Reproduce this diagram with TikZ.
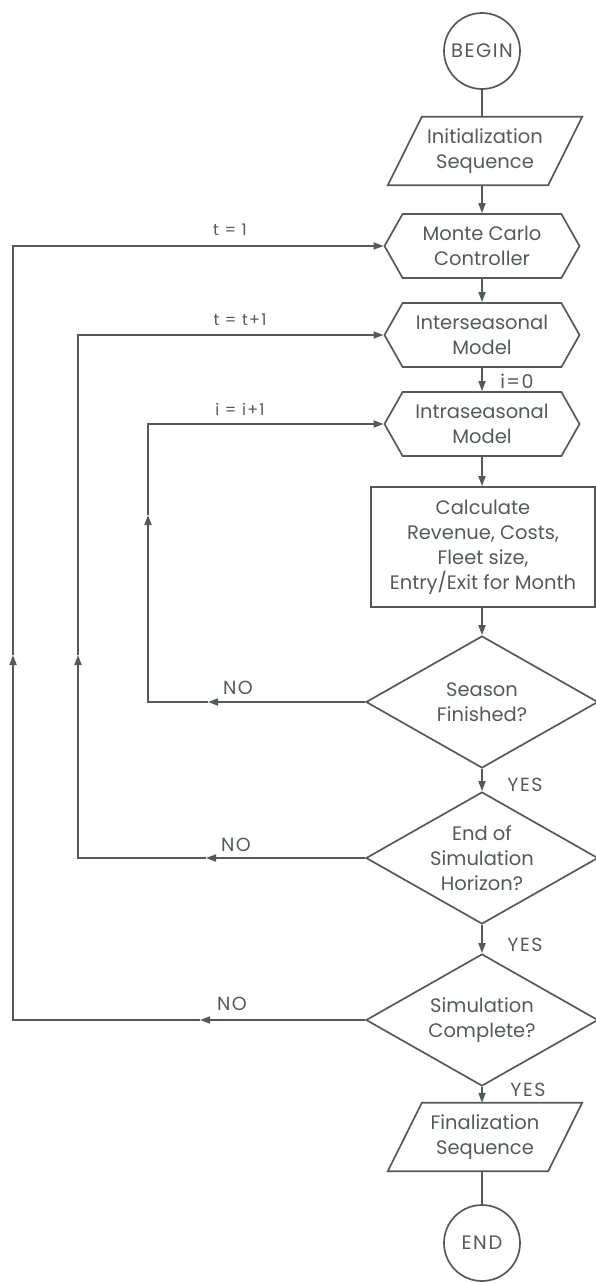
\documentclass[tikz,border=0pt]{standalone}
\usepackage{fontspec}
\setmainfont{Poppins}
\newfontfamily\spaced[LetterSpace=8]{Poppins}
\usetikzlibrary{shapes.geometric,shapes.symbols,arrows.meta}
\definecolor{ink}{HTML}{545A5A}
\begin{document}
\begin{tikzpicture}[x=1pt,y=-1pt,
  every node/.style={text=ink, font=\fontsize{19.5}{25}\selectfont},
  base/.style={draw=ink, line width=1.7pt, align=center, inner sep=0pt},
  term/.style={base, circle, minimum size=76pt, font=\spaced\fontsize{19.5}{25}\selectfont},
  iobody/.style={align=center, inner sep=0pt, rectangle, minimum width=126pt, minimum height=68pt},
  hex/.style={base, signal, signal to=west and east, signal pointer angle=121, minimum width=195pt, minimum height=64pt},
  proc/.style={base, rectangle, minimum width=224pt, minimum height=120pt},
  dec/.style={base, diamond, aspect=1.76, minimum width=232pt, minimum height=132pt},
  line/.style={draw=ink, line width=1.7pt},
  arr/.style={line, -{Triangle[length=10pt,width=7pt]}},
  lab/.style={font=\spaced\fontsize{16}{18}\selectfont},
  blab/.style={font=\spaced\fontsize{19}{20}\selectfont}
]
\useasboundingbox (0,0) rectangle (596,1283);

% main column
\node[term] (start) at (482,51) {BEGIN};
\node[iobody] (init) at (485,151) {Initialization\\Sequence};
\draw[line, line join=miter] (init.north west) -- ([xshift=34pt]init.north east) -- (init.south east) -- ([xshift=-34pt]init.south west) -- cycle;
\node[hex] (mc) at (482,246) {Monte Carlo\\Controller};
\node[hex] (inter) at (482,335) {Interseasonal\\Model};
\node[hex] (intra) at (482,424) {Intraseasonal\\Model};
\node[proc] (calc) at (483,547) {Calculate\\Revenue, Costs,\\Fleet size,\\Entry/Exit for Month};
\node[dec] (d1) at (482,702) {Season\\Finished?};
\node[dec] (d2) at (482,858) {End of\\Simulation\\Horizon?};
\node[dec] (d3) at (482,1020) {Simulation\\Complete?};
\node[iobody] (fin) at (485,1137) {Finalization\\Sequence};
\draw[line, line join=miter] (fin.north west) -- ([xshift=34pt]fin.north east) -- (fin.south east) -- ([xshift=-34pt]fin.south west) -- cycle;
\node[term] (stop) at (482,1243) {END};

\draw[line] (start.south) -- (start.south |- init.north);
\draw[arr] (init.south -| mc.north) -- (mc.north);
\draw[arr] (mc) -- (inter);
\draw[arr] (inter) -- (intra);
\draw[arr] (intra.south) -- (intra.south |- calc.north);
\draw[arr] (calc.south -| d1.north) -- (d1);
\draw[arr] (d1) -- (d2);
\draw[arr] (d2) -- (d3);
\draw[arr] (d3.south) -- (d3.south |- fin.north);
\draw[line] (fin.south -| stop.north) -- (stop.north);

\node[blab] (i0) at (517,381) {i=0};
\node[blab] (y1) at (525,785) {YES};
\node[blab] (y2) at (525,945) {YES};
\node[blab] (y3) at (528,1090) {YES};

% inner loop (i)
\coordinate (a1) at (208,702);
\coordinate (a2) at (148,702);
\coordinate (a3) at (148,515);
\coordinate (a4) at (148,424);
\draw[arr] (d1.west) -- (a1);
\draw[arr] (a1) -- (a2) -- (a3);
\draw[arr] (a3) -- (a4) -- (intra.west);
\node[blab] (no1) at (238,688) {NO};
\node[lab] (ii) at (240,409) {i = i+1};

% middle loop (t)
\coordinate (b1) at (206,858);
\coordinate (b2) at (78,858);
\coordinate (b3) at (78,655);
\coordinate (b4) at (78,335);
\draw[arr] (d2.west) -- (b1);
\draw[arr] (b1) -- (b2) -- (b3);
\draw[arr] (b3) -- (b4) -- (inter.west);
\node[blab] (no2) at (236,845) {NO};
\node[lab] (tt) at (240,320) {t = t+1};

% outer loop (Monte Carlo)
\coordinate (c1) at (200,1020);
\coordinate (c2) at (13,1020);
\coordinate (c3) at (13,655);
\coordinate (c4) at (13,246);
\draw[arr] (d3.west) -- (c1);
\draw[arr] (c1) -- (c2) -- (c3);
\draw[arr] (c3) -- (c4) -- (mc.west);
\node[blab] (no3) at (232,1004) {NO};
\node[lab] (t1) at (230,230) {t = 1};
\end{tikzpicture}
\end{document}
